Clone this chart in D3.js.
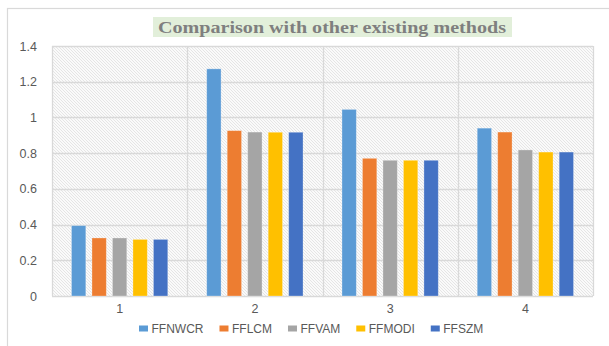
<!DOCTYPE html>
<html>
<head>
<meta charset="utf-8">
<script src="https://cdn.jsdelivr.net/npm/d3@7"></script>
<style>
  body { margin: 0; background: #fff; }
  svg { display: block; }
  .tick text { font-family: "Liberation Sans", Arial, sans-serif; }
</style>
</head>
<body>
<svg id="chart"></svg>
<script>
// ---------- data ----------
var groups = ["1", "2", "3", "4"]
var methods = ["FFNWCR", "FFLCM", "FFVAM", "FFMODI", "FFSZM"]
var colors = ["#5b9bd5", "#ed7d31", "#a5a5a5", "#ffc000", "#4472c4"]
var FFNWCR = [0.394, 1.272, 1.045, 0.940]
var FFLCM  = [0.325, 0.926, 0.771, 0.918]
var FFVAM  = [0.325, 0.918, 0.760, 0.818]
var FFMODI = [0.317, 0.917, 0.760, 0.806]
var FFSZM  = [0.317, 0.917, 0.760, 0.806]
var yTicks = [0, 0.2, 0.4, 0.6, 0.8, 1, 1.2, 1.4]
var titleText = "Comparison with other existing methods"

var series = [FFNWCR, FFLCM, FFVAM, FFMODI, FFSZM]

var screen = {width: 609, height: 346}
var plot = {left: 52, right: 593, top: 46, bottom: 296}

var svg = d3.select("#chart")
  .attr("width", screen.width)
  .attr("height", screen.height)

// hatch pattern for the plot area
var defs = svg.append("defs")
var pat = defs.append("pattern")
  .attr("id", "hatch")
  .attr("patternUnits", "userSpaceOnUse")
  .attr("width", 3)
  .attr("height", 3)
pat.append("rect").attr("width", 3).attr("height", 3).attr("fill", "#fafafa")
pat.append("path")
  .attr("d", "M0,0 L3,3 M-1,2 L1,4 M2,-1 L4,1")
  .attr("stroke", "#e0e0e0")
  .attr("stroke-width", 0.8)

// outer chart border (only top and left visible)
svg.append("rect")
  .attr("x", 7.5).attr("y", 8.5)
  .attr("width", 620).attr("height", 360)
  .attr("fill", "none")
  .attr("stroke", "#d9d9d9")
  .attr("stroke-width", 1.2)

// ---------- scales ----------
var x0 = d3.scaleBand()
  .domain(groups)
  .range([plot.left, plot.right])
  .padding(0)

var x1 = d3.scaleBand()
  .domain(methods)
  .range([0, x0.bandwidth()])
  .paddingInner(0.3)
  .paddingOuter(0.95)

var yScale = d3.scaleLinear()
  .domain([0, 1.4])
  .range([plot.bottom, plot.top])

// plot background
svg.append("rect")
  .attr("x", plot.left).attr("y", plot.top)
  .attr("width", plot.right - plot.left)
  .attr("height", plot.bottom - plot.top)
  .attr("fill", "url(#hatch)")

// horizontal gridlines
svg.append("g")
  .selectAll("line")
  .data(yTicks)
  .enter()
  .append("line")
  .attr("x1", plot.left).attr("x2", plot.right)
  .attr("y1", function(d) { return Math.round(yScale(d)) + 0.5 })
  .attr("y2", function(d) { return Math.round(yScale(d)) + 0.5 })
  .attr("stroke", "#d9d9d9")
  .attr("stroke-width", 1.3)

// vertical group separators
var seps = groups.map(function(g) { return x0(g) }).concat([plot.right])
svg.append("g")
  .selectAll("line")
  .data(seps)
  .enter()
  .append("line")
  .attr("x1", function(d) { return Math.round(d) + 0.5 })
  .attr("x2", function(d) { return Math.round(d) + 0.5 })
  .attr("y1", plot.top).attr("y2", plot.bottom)
  .attr("stroke", "#d9d9d9")
  .attr("stroke-width", 1.3)

// ---------- bars ----------
var rows = groups.map(function(g, i) {
  return {group: g, vals: methods.map(function(m, j) {
    return {method: m, value: series[j][i], color: colors[j]}
  })}
})

var gGroups = svg.append("g")
  .selectAll("g")
  .data(rows)
  .enter()
  .append("g")
  .attr("transform", function(d) { return "translate(" + x0(d.group) + ",0)" })

gGroups.selectAll("rect")
  .data(function(d) { return d.vals })
  .enter()
  .append("rect")
  .attr("x", function(d) { return x1(d.method) })
  .attr("y", function(d) { return yScale(d.value) })
  .attr("width", x1.bandwidth())
  .attr("height", function(d) { return plot.bottom - yScale(d.value) })
  .attr("fill", function(d) { return d.color })
  .attr("stroke", "#ffffff")
  .attr("stroke-opacity", 0.35)
  .attr("stroke-width", 0.8)

// ---------- axes ----------
var yAxis = d3.axisLeft(yScale)
  .tickValues(yTicks)
  .tickSize(0)
  .tickPadding(15)
  .tickFormat(function(d) { return String(d) })

svg.append("g")
  .attr("transform", "translate(" + plot.left + ",0)")
  .call(yAxis)
  .call(function(g) { g.select(".domain").remove() })
  .selectAll("text")
  .attr("fill", "#595959")
  .attr("font-size", 12.5)

var xAxis = d3.axisBottom(x0).tickSize(0).tickPadding(8)
svg.append("g")
  .attr("transform", "translate(0," + plot.bottom + ")")
  .call(xAxis)
  .call(function(g) { g.select(".domain").remove() })
  .selectAll("text")
  .attr("fill", "#595959")
  .attr("font-size", 12.5)

// ---------- title ----------
var titleG = svg.append("g")
titleG.append("rect")
  .attr("x", 153).attr("y", 17)
  .attr("width", 359).attr("height", 20)
  .attr("fill", "#e2efda")
titleG.append("text")
  .attr("x", 158).attr("y", 32.5)
  .attr("textLength", 348)
  .attr("lengthAdjust", "spacingAndGlyphs")
  .attr("font-family", "Liberation Serif, Times New Roman, serif")
  .attr("font-weight", "bold")
  .attr("font-size", 16)
  .attr("fill", "#7f7f7f")
  .text(titleText)

// ---------- legend ----------
var legend = svg.append("g")
var lx = 139
methods.forEach(function(m, i) {
  var item = legend.append("g").attr("transform", "translate(" + lx + ",329)")
  item.append("rect")
    .attr("x", 0).attr("y", -3.5)
    .attr("width", 9).attr("height", 6)
    .attr("fill", colors[i])
  var t = item.append("text")
    .attr("x", 12.5).attr("y", 4)
    .attr("font-family", "Liberation Sans, Arial, sans-serif")
    .attr("font-size", 12)
    .attr("fill", "#595959")
    .text(m)
  lx += 12.5 + t.node().getComputedTextLength() + 16
})
</script>
</body>
</html>
